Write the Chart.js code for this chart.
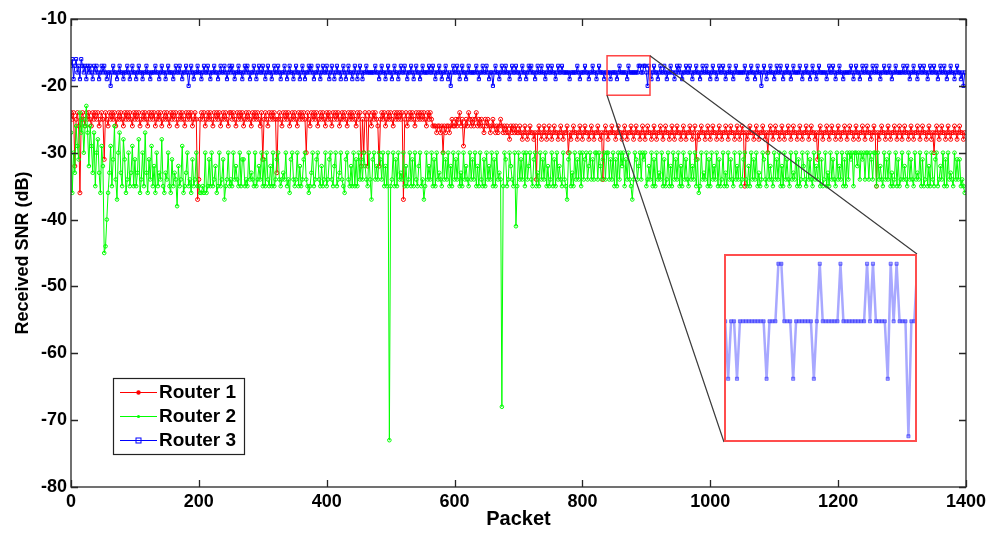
<!DOCTYPE html>
<html>
<head>
<meta charset="utf-8">
<script src="https://cdn.jsdelivr.net/npm/chart.js@4/dist/chart.umd.min.js"></script>
<style>
html,body{margin:0;padding:0;background:#fff;}
#wrap{position:relative;width:993px;height:533px;overflow:hidden;}
#main{position:absolute;left:0;top:0;}
#inset{position:absolute;left:724px;top:254px;background:#fff;}
</style>
</head>
<body>
<div id="wrap">
<canvas id="main" width="993" height="533"></canvas>
<canvas id="inset" width="193" height="188"></canvas>
</div>
<script>
// ---- data (one value every 2 packets) ----
const packetStep = 2;
const seriesLabels = ['Router 1', 'Router 2', 'Router 3'];
const xTicks = [0, 200, 400, 600, 800, 1000, 1200, 1400];
const yTicks = [-80, -70, -60, -50, -40, -30, -20, -10];

const router1 = [
-24,-25,-24,-32,-25,-24,-26,-36,-25,-24,-25,-26,-24,-25,-24,-25,-26,-24,-25,-24,-25,-24,-26,-25,-24,
-25,-31,-24,-25,-26,-24,-25,-24,-25,-24,-26,-25,-24,-25,-24,-25,-26,-24,-25,-24,-25,-24,-25,-26,-24,
-25,-24,-25,-24,-26,-25,-24,-25,-24,-25,-26,-24,-25,-24,-25,-24,-26,-25,-24,-25,-24,-26,-25,-24,-25,
-24,-25,-26,-24,-25,-24,-25,-24,-26,-25,-24,-25,-24,-25,-26,-24,-25,-24,-25,-24,-26,-25,-24,-25,-37,
-34,-25,-24,-25,-24,-26,-25,-24,-25,-24,-25,-26,-24,-25,-24,-25,-24,-26,-25,-24,-25,-24,-25,-26,-24,
-24,-25,-24,-25,-26,-24,-25,-24,-25,-24,-26,-25,-24,-25,-24,-25,-26,-24,-25,-24,-25,-24,-25,-26,-24,
-31,-25,-24,-25,-26,-24,-25,-24,-25,-24,-25,-33,-25,-24,-25,-26,-24,-25,-24,-25,-24,-26,-25,-24,-25,
-24,-25,-26,-24,-25,-24,-25,-24,-25,-30,-24,-25,-26,-24,-25,-24,-25,-24,-26,-25,-24,-25,-24,-25,-26,
-24,-25,-24,-25,-26,-24,-25,-24,-25,-24,-26,-25,-24,-25,-24,-25,-26,-24,-25,-24,-25,-24,-25,-26,-24,
-25,-24,-32,-25,-30,-24,-25,-32,-24,-25,-26,-24,-25,-24,-25,-26,-32,-25,-24,-25,-24,-26,-25,-24,-25,
-24,-25,-26,-24,-25,-24,-25,-24,-25,-24,-37,-25,-24,-26,-25,-24,-25,-24,-25,-26,-24,-25,-24,-25,-24,
-25,-24,-25,-26,-24,-25,-24,-25,-26,-26,-26,-27,-26,-26,-27,-26,-30,-26,-27,-26,-26,-27,-26,-25,-26,
-26,-25,-26,-25,-24,-26,-25,-29,-26,-25,-26,-24,-25,-26,-25,-26,-25,-24,-26,-25,-26,-25,-26,-27,-25,
-26,-25,-26,-27,-26,-25,-26,-27,-26,-27,-26,-25,-26,-27,-26,-27,-26,-27,-28,-26,-27,-26,-27,-26,-27,
-27,-26,-27,-28,-27,-26,-27,-28,-27,-26,-27,-27,-28,-27,-34,-27,-26,-27,-28,-27,-26,-27,-28,-27,-26,
-27,-28,-27,-26,-27,-27,-28,-27,-26,-27,-28,-27,-27,-26,-30,-27,-28,-27,-26,-27,-27,-28,-27,-26,-27,
-28,-27,-26,-27,-27,-28,-27,-26,-27,-28,-27,-27,-26,-27,-28,-27,-34,-27,-26,-27,-28,-27,-27,-26,-27,
-27,-28,-27,-26,-27,-27,-28,-27,-26,-27,-28,-27,-27,-26,-27,-28,-27,-26,-27,-27,-28,-27,-26,-27,-28,
-27,-26,-27,-27,-28,-27,-26,-27,-28,-27,-27,-26,-27,-28,-27,-26,-27,-27,-28,-27,-26,-27,-28,-27,-26,
-27,-27,-28,-27,-26,-27,-28,-27,-27,-26,-27,-28,-27,-26,-31,-27,-28,-27,-26,-27,-27,-28,-27,-26,-27,
-28,-27,-26,-27,-27,-28,-27,-26,-27,-28,-27,-27,-26,-27,-28,-27,-26,-27,-27,-28,-27,-26,-27,-28,-27,
-26,-27,-35,-27,-28,-27,-26,-27,-27,-28,-27,-26,-27,-28,-27,-27,-26,-27,-28,-27,-30,-27,-26,-27,-28,
-27,-26,-27,-27,-28,-27,-26,-27,-28,-27,-27,-26,-27,-28,-27,-26,-27,-27,-28,-27,-26,-27,-28,-27,-27,
-26,-27,-28,-27,-26,-27,-27,-28,-27,-31,-27,-26,-27,-28,-27,-27,-26,-27,-28,-27,-26,-27,-27,-28,-27,
-26,-27,-28,-27,-27,-26,-27,-28,-27,-26,-27,-27,-28,-27,-26,-27,-28,-27,-27,-26,-27,-28,-27,-26,-27,
-27,-28,-27,-26,-27,-35,-27,-28,-27,-26,-27,-27,-28,-27,-26,-27,-28,-27,-27,-26,-27,-28,-27,-26,-27,
-28,-27,-26,-27,-27,-28,-27,-26,-27,-28,-27,-27,-26,-27,-28,-27,-26,-27,-27,-28,-27,-26,-27,-28,-27,
-30,-27,-26,-27,-28,-27,-26,-27,-27,-28,-27,-26,-27,-28,-27,-27,-26,-27,-28,-27,-26,-27,-27,-28,-27
];

const router2 = [
-27,-36,-30,-33,-26,-29,-31,-24,-27,-25,-30,-26,-23,-27,-32,-26,-29,-33,-27,-35,-30,-28,-33,-36,-29,
-32,-45,-44,-40,-36,-33,-29,-35,-31,-26,-34,-37,-30,-27,-33,-35,-28,-31,-36,-34,-30,-35,-33,-29,-35,
-31,-35,-33,-28,-36,-34,-30,-35,-27,-33,-36,-31,-34,-29,-35,-32,-36,-30,-35,-33,-34,-28,-35,-36,-33,
-34,-30,-35,-36,-31,-35,-33,-34,-38,-32,-35,-34,-29,-36,-35,-33,-30,-35,-34,-36,-31,-35,-34,-30,-35,
-35,-36,-36,-35,-36,-30,-36,-35,-31,-35,-30,-35,-34,-32,-36,-35,-30,-35,-34,-31,-37,-35,-34,-30,-35,
-34,-35,-30,-34,-32,-34,-35,-30,-35,-31,-31,-35,-34,-35,-30,-34,-33,-34,-35,-30,-35,-34,-32,-34,-30,
-35,-31,-35,-30,-34,-35,-32,-35,-30,-35,-34,-31,-30,-34,-35,-34,-33,-34,-30,-35,-34,-36,-31,-30,-34,
-35,-34,-30,-35,-32,-35,-34,-31,-30,-34,-35,-36,-35,-33,-30,-35,-34,-31,-30,-34,-35,-32,-35,-34,-30,
-35,-34,-31,-30,-34,-35,-32,-30,-35,-34,-33,-30,-34,-35,-36,-31,-30,-34,-35,-32,-35,-30,-35,-31,-35,
-30,-34,-31,-34,-30,-32,-34,-35,-30,-34,-37,-31,-30,-34,-32,-34,-30,-31,-34,-30,-35,-32,-35,-30,-73,
-35,-34,-30,-35,-31,-35,-30,-34,-33,-34,-30,-35,-32,-35,-34,-30,-35,-31,-35,-30,-34,-35,-32,-30,-35,
-34,-37,-35,-30,-34,-32,-34,-30,-35,-31,-35,-30,-34,-33,-34,-35,-30,-34,-31,-34,-30,-35,-32,-35,-30,
-34,-31,-34,-30,-35,-33,-35,-30,-34,-32,-34,-35,-30,-34,-31,-34,-30,-35,-32,-35,-30,-34,-35,-31,-35,
-30,-34,-32,-34,-30,-35,-31,-35,-30,-34,-33,-34,-68,-35,-30,-31,-35,-34,-30,-32,-34,-35,-30,-41,-35,
-30,-34,-31,-34,-30,-35,-30,-34,-32,-30,-34,-35,-31,-30,-35,-33,-35,-30,-34,-31,-34,-30,-35,-32,-35,
-34,-30,-35,-31,-35,-30,-34,-32,-34,-35,-30,-34,-35,-37,-31,-30,-35,-33,-35,-30,-34,-31,-34,-30,-35,
-30,-34,-31,-30,-34,-32,-30,-34,-31,-34,-30,-30,-34,-30,-32,-34,-31,-30,-34,-30,-30,-34,-31,-34,-30,
-35,-31,-35,-30,-34,-30,-32,-30,-35,-31,-34,-30,-34,-35,-37,-34,-30,-31,-34,-32,-30,-34,-30,-31,-30,
-35,-34,-32,-34,-30,-35,-31,-35,-30,-34,-33,-34,-30,-35,-31,-35,-34,-30,-35,-32,-35,-30,-34,-31,-34,
-30,-35,-32,-35,-30,-34,-31,-34,-35,-30,-34,-32,-34,-30,-35,-31,-36,-35,-30,-34,-33,-34,-30,-35,-31,
-35,-30,-34,-32,-34,-30,-35,-31,-35,-34,-30,-35,-33,-35,-30,-34,-31,-34,-35,-30,-34,-32,-34,-30,-35,
-34,-31,-30,-34,-35,-32,-35,-30,-34,-31,-34,-30,-35,-33,-35,-34,-30,-31,-34,-35,-30,-34,-32,-34,-35,
-30,-34,-31,-34,-30,-35,-32,-35,-30,-34,-31,-34,-35,-30,-34,-33,-34,-30,-35,-31,-35,-34,-30,-32,-34,
-35,-30,-34,-31,-34,-35,-30,-34,-32,-34,-30,-35,-31,-35,-34,-30,-35,-33,-35,-30,-34,-31,-34,-35,-30,
-34,-32,-34,-30,-35,-31,-35,-30,-34,-30,-31,-30,-35,-30,-30,-32,-30,-34,-30,-31,-30,-34,-30,-30,-34,
-30,-31,-34,-30,-30,-35,-30,-34,-32,-34,-35,-30,-34,-31,-34,-30,-35,-33,-35,-34,-30,-35,-31,-35,-34,
-30,-34,-32,-34,-35,-30,-34,-31,-34,-35,-30,-34,-33,-34,-30,-35,-31,-35,-34,-30,-35,-32,-35,-30,-34,
-35,-31,-30,-35,-34,-32,-34,-30,-35,-31,-35,-30,-34,-33,-34,-35,-30,-34,-31,-34,-31,-35,-34,-35,-36
];

const router3 = [
-17,-16,-19,-17,-16,-18,-17,-19,-16,-17,-18,-17,-19,-17,-18,-17,-18,-19,-17,-18,-17,-18,-19,-18,-17,
-18,-17,-18,-19,-18,-18,-20,-18,-17,-18,-18,-19,-18,-17,-18,-18,-19,-18,-18,-17,-18,-19,-18,-17,-18,
-18,-19,-18,-17,-18,-18,-19,-18,-18,-17,-18,-18,-19,-18,-18,-18,-17,-18,-18,-19,-18,-17,-18,-18,-19,
-18,-17,-18,-18,-18,-19,-18,-17,-18,-18,-17,-18,-19,-18,-18,-17,-18,-20,-18,-17,-18,-19,-18,-18,-17,
-18,-18,-19,-18,-17,-18,-18,-17,-18,-19,-18,-18,-17,-18,-18,-19,-18,-17,-18,-18,-17,-18,-19,-18,-17,
-18,-17,-18,-19,-18,-18,-17,-18,-18,-19,-18,-17,-18,-17,-18,-19,-18,-18,-17,-18,-19,-18,-17,-18,-18,
-17,-18,-19,-18,-17,-18,-18,-19,-18,-17,-18,-18,-17,-18,-19,-18,-18,-17,-18,-19,-18,-17,-18,-18,-19,
-18,-17,-18,-18,-19,-18,-17,-18,-19,-18,-18,-17,-18,-17,-18,-19,-18,-18,-17,-18,-19,-18,-17,-18,-18,
-17,-18,-19,-18,-17,-18,-19,-18,-17,-18,-18,-19,-18,-17,-18,-19,-18,-17,-18,-18,-19,-18,-17,-18,-19,
-18,-17,-18,-19,-18,-18,-17,-18,-18,-18,-18,-18,-18,-17,-18,-18,-19,-18,-17,-18,-18,-19,-18,-17,-18,
-18,-19,-18,-17,-18,-18,-19,-18,-17,-18,-18,-17,-18,-19,-18,-18,-17,-18,-19,-18,-17,-18,-18,-19,-18,
-17,-18,-18,-18,-18,-17,-18,-18,-17,-18,-19,-18,-18,-17,-18,-19,-18,-18,-17,-18,-19,-18,-20,-18,-17,
-18,-18,-17,-18,-19,-18,-17,-18,-18,-19,-18,-17,-18,-18,-18,-18,-18,-17,-18,-19,-18,-18,-17,-18,-18,
-17,-18,-19,-18,-18,-20,-18,-17,-18,-18,-19,-18,-17,-18,-18,-17,-18,-18,-19,-18,-17,-18,-18,-17,-18,
-18,-19,-18,-17,-18,-18,-19,-18,-17,-18,-17,-18,-18,-19,-18,-17,-18,-18,-17,-18,-18,-19,-18,-17,-18,
-18,-17,-18,-18,-19,-18,-17,-18,-18,-17,-18,-18,-18,-18,-18,-19,-18,-18,-18,-18,-18,-17,-18,-19,-18,
-18,-18,-17,-18,-18,-19,-18,-18,-17,-18,-18,-19,-18,-17,-18,-18,-18,-19,-18,-18,-18,-18,-19,-18,-18,
-18,-18,-19,-18,-17,-18,-18,-18,-18,-18,-19,-17,-18,-18,-18,-18,-18,-18,-18,-17,-17,-18,-18,-17,-17,
-18,-20,-17,-18,-19,-18,-17,-18,-18,-19,-18,-17,-18,-18,-17,-18,-19,-18,-18,-17,-18,-18,-19,-18,-17,
-18,-17,-18,-19,-18,-18,-17,-18,-18,-17,-18,-19,-18,-18,-17,-18,-18,-19,-18,-17,-18,-18,-17,-18,-18,
-19,-18,-17,-18,-18,-19,-18,-17,-18,-18,-17,-18,-19,-18,-18,-17,-18,-18,-19,-18,-17,-18,-18,-18,-18,
-18,-18,-17,-18,-19,-18,-18,-17,-18,-18,-19,-18,-17,-18,-18,-20,-18,-17,-18,-19,-18,-18,-17,-18,-18,
-19,-18,-17,-18,-18,-17,-18,-19,-18,-18,-17,-18,-18,-19,-18,-17,-18,-18,-18,-18,-17,-18,-19,-18,-18,
-17,-18,-18,-19,-18,-17,-18,-18,-19,-18,-17,-18,-18,-18,-18,-18,-19,-18,-17,-18,-18,-17,-18,-19,-18,
-18,-17,-18,-18,-19,-18,-18,-18,-18,-18,-17,-18,-19,-18,-17,-18,-18,-19,-18,-17,-18,-18,-17,-18,-18,
-19,-18,-17,-18,-18,-17,-18,-18,-19,-18,-18,-17,-18,-18,-18,-17,-18,-19,-18,-18,-17,-18,-18,-18,-18,
-18,-17,-18,-18,-17,-18,-19,-18,-18,-17,-18,-18,-19,-18,-17,-18,-18,-17,-18,-18,-19,-18,-17,-18,-18,
-17,-18,-18,-19,-18,-17,-18,-18,-17,-18,-19,-18,-18,-17,-18,-18,-19,-18,-17,-18,-18,-19,-18,-20,-18
];

// Zoomed detail of Router 3, one value per packet starting at packet 840
const zoomStartPacket = 840;
const router3Zoom = [
-18,-19,-18,-18,-19,-18,-18,-18,-18,-18,
-18,-18,-18,-18,-19,-18,-18,-18,-17,-17,
-18,-18,-18,-19,-18,-18,-18,-18,-18,-18,
-19,-18,-17,-18,-18,-18,-18,-18,-18,-17,
-18,-18,-18,-18,-18,-18,-18,-18,-17,-18,
-17,-18,-18,-18,-18,-19,-17,-18,-17,-18,
-18,-18,-20,-18,-18,-17,-18
];
// window of the inset (data units) and the marked region on the main plot
const insetRange = {xMin: 839.6, xMax: 904.9, yMin: -20.1, yMax: -16.83};
const zoomMark = {xFrom: 838.5, xTo: 905.7, yTop: -15.5, yBottom: -21.4};

// ---- build chart ----
const FONT = "'Liberation Sans', Arial, sans-serif";
const toXY = arr => arr.map((v, i) => ({x: i * packetStep, y: v}));
const zoomXY = router3Zoom.map((v, i) => ({x: zoomStartPacket + i, y: v}));

const styles = [
  {color: '#ff0000', pointStyle: 'circle', radius: 2},
  {color: '#00ff00', pointStyle: 'circle', radius: 1.8},
  {color: '#0000ff', pointStyle: 'rect', radius: 2.2}
];
const allSeries = [router1, router2, router3];

const datasets = allSeries.map((arr, k) => ({
  label: seriesLabels[k],
  data: toXY(arr),
  borderColor: styles[k].color,
  borderWidth: 1,
  pointStyle: styles[k].pointStyle,
  pointRadius: styles[k].radius,
  pointHoverRadius: 0,
  pointBorderWidth: 1,
  pointBorderColor: styles[k].color,
  pointBackgroundColor: 'rgba(0,0,0,0)',
  fill: false,
  tension: 0,
  order: 3 - k
}));

const framePlugin = {
  id: 'frame',
  afterDatasetsDraw(chart) {
    const {ctx, chartArea: a, scales: {x, y}} = chart;
    ctx.save();
    // marked zoom region
    const zx0 = x.getPixelForValue(zoomMark.xFrom), zx1 = x.getPixelForValue(zoomMark.xTo);
    const zy0 = y.getPixelForValue(zoomMark.yTop), zy1 = y.getPixelForValue(zoomMark.yBottom);
    ctx.strokeStyle = '#ff4444';
    ctx.lineWidth = 1.5;
    ctx.strokeRect(zx0, zy0, zx1 - zx0, zy1 - zy0);
    // connectors to inset
    const ins = document.getElementById('inset');
    const il = ins.offsetLeft, it = ins.offsetTop, iw = ins.width, ih = ins.height;
    ctx.strokeStyle = '#3c3c3c';
    ctx.lineWidth = 1.2;
    ctx.beginPath();
    ctx.moveTo(zx1, zy0); ctx.lineTo(il + iw, it);
    ctx.moveTo(zx0, zy1); ctx.lineTo(il, it + ih);
    ctx.stroke();
    // axes box
    ctx.strokeStyle = '#262626';
    ctx.lineWidth = 1.3;
    ctx.strokeRect(a.left, a.top, a.right - a.left, a.bottom - a.top);
    // inward ticks on all four sides
    const tl = 7;
    ctx.beginPath();
    x.ticks.forEach(t => {
      const px = Math.round(x.getPixelForValue(t.value)) + 0.5;
      ctx.moveTo(px, a.bottom); ctx.lineTo(px, a.bottom - tl);
      ctx.moveTo(px, a.top); ctx.lineTo(px, a.top + tl);
    });
    y.ticks.forEach(t => {
      const py = Math.round(y.getPixelForValue(t.value)) + 0.5;
      ctx.moveTo(a.left, py); ctx.lineTo(a.left + tl, py);
      ctx.moveTo(a.right, py); ctx.lineTo(a.right - tl, py);
    });
    ctx.stroke();
    ctx.restore();
  },
  afterDraw(chart) {
    // legend box (MATLAB style, lower left inside axes)
    const {ctx, chartArea: a} = chart;
    const L = a.left + 42, T = a.bottom - 109, W = 131, H = 76;
    ctx.save();
    ctx.fillStyle = '#fff';
    ctx.fillRect(L, T, W, H);
    ctx.strokeStyle = '#222';
    ctx.lineWidth = 1.2;
    ctx.strokeRect(L + 0.5, T + 0.5, W, H);
    chart.data.datasets.forEach((ds, i) => {
      const cy = T + 14 + i * 24;
      ctx.strokeStyle = ds.borderColor;
      ctx.lineWidth = 1;
      ctx.beginPath(); ctx.moveTo(L + 7, cy + 0.5); ctx.lineTo(L + 44, cy + 0.5); ctx.stroke();
      ctx.fillStyle = ds.borderColor;
      if (ds.pointStyle === 'rect') {
        ctx.strokeRect(L + 23, cy - 2, 5, 5);
      } else {
        ctx.beginPath(); ctx.arc(L + 25.5, cy + 0.5, i === 0 ? 2.2 : 1.6, 0, Math.PI * 2); ctx.fill();
      }
      ctx.fillStyle = '#000';
      ctx.font = 'bold 19px ' + FONT;
      ctx.textBaseline = 'middle';
      ctx.textAlign = 'left';
      ctx.fillText(ds.label, L + 46, cy + 1);
    });
    ctx.restore();
  }
};

const tickFont = {family: FONT, size: 18, weight: 'bold'};

new Chart(document.getElementById('main'), {
  type: 'line',
  data: {datasets},
  options: {
    responsive: false,
    animation: false,
    devicePixelRatio: 1,
    layout: {autoPadding: false, padding: {left: 0, right: 27, top: 19, bottom: 0}},
    plugins: {legend: {display: false}, tooltip: {enabled: false}},
    events: [],
    scales: {
      x: {
        type: 'linear', min: 0, max: 1400,
        afterBuildTicks: s => { s.ticks = xTicks.map(v => ({value: v})); },
        ticks: {font: tickFont, color: '#000', padding: 4, maxRotation: 0, autoSkip: false, callback: v => String(v)},
        grid: {display: false, drawTicks: false},
        border: {display: false},
        title: {display: true, text: 'Packet', font: {family: FONT, size: 20, weight: 'bold'}, color: '#000', padding: {top: 0, bottom: 2}},
        afterFit: s => { s.height = 46; }
      },
      y: {
        type: 'linear', min: -80, max: -10,
        afterBuildTicks: s => { s.ticks = yTicks.map(v => ({value: v})); },
        ticks: {font: tickFont, color: '#000', padding: 4, autoSkip: false, callback: v => String(v)},
        grid: {display: false, drawTicks: false},
        border: {display: false},
        title: {display: true, text: 'Received SNR (dB)', font: {family: FONT, size: 18, weight: 'bold'}, color: '#000', padding: {top: 12, bottom: 0}},
        afterFit: s => { s.width = 71; }
      }
    }
  },
  plugins: [framePlugin]
});

// ---- inset chart ----
const insetBorder = {
  id: 'insetBorder',
  afterDraw(chart) {
    const {ctx, width, height} = chart;
    ctx.save();
    ctx.strokeStyle = '#ff4d4d';
    ctx.lineWidth = 2;
    ctx.strokeRect(1, 1, width - 2, height - 2);
    ctx.restore();
  }
};

new Chart(document.getElementById('inset'), {
  type: 'line',
  data: {datasets: [{
    label: seriesLabels[2],
    data: zoomXY,
    borderColor: 'rgba(110,110,255,0.6)',
    borderWidth: 2.5,
    pointStyle: 'rect',
    pointRadius: 2.2,
    pointBorderWidth: 1,
    pointBorderColor: 'rgba(60,60,255,0.6)',
    pointBackgroundColor: 'rgba(80,80,255,0.5)',
    tension: 0
  }]},
  options: {
    responsive: false,
    animation: false,
    devicePixelRatio: 1,
    events: [],
    layout: {autoPadding: false, padding: 0},
    plugins: {legend: {display: false}, tooltip: {enabled: false}},
    scales: {
      x: {type: 'linear', display: false, min: insetRange.xMin, max: insetRange.xMax},
      y: {type: 'linear', display: false, min: insetRange.yMin, max: insetRange.yMax}
    }
  },
  plugins: [insetBorder]
});
</script>
</body>
</html>
